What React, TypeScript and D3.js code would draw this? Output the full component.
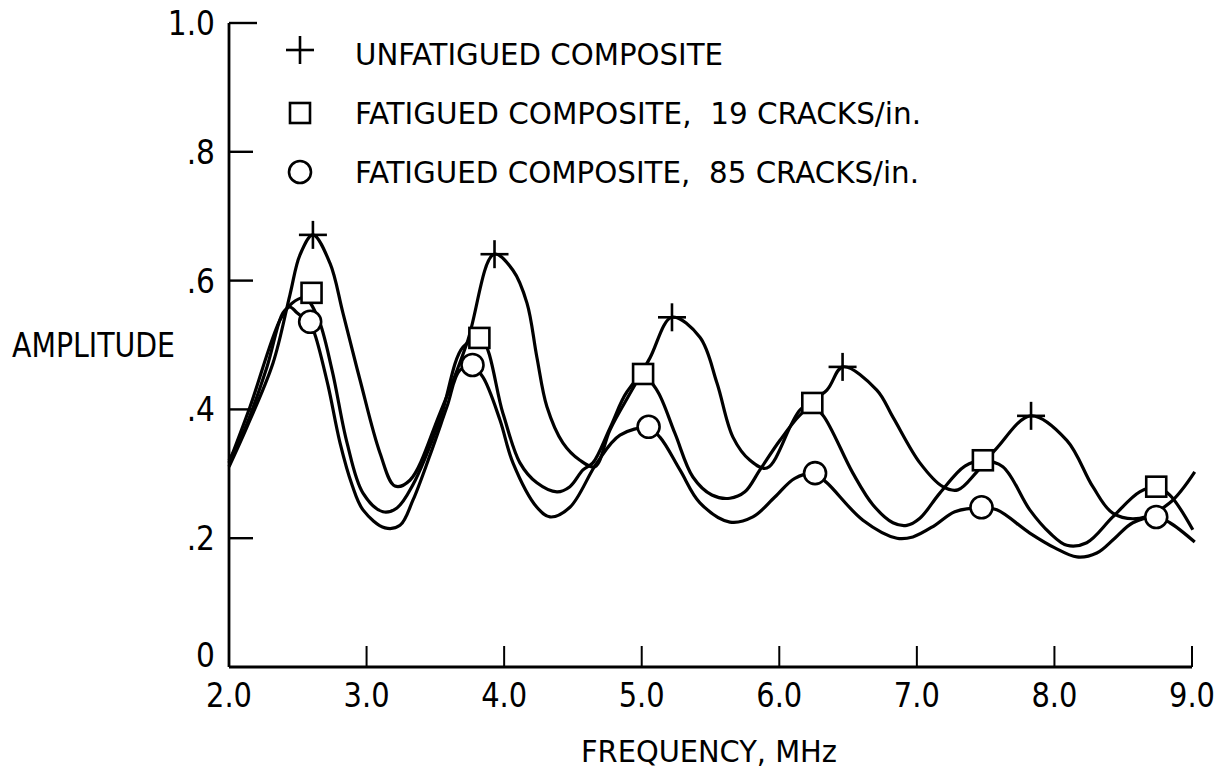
import React from "react";
import * as d3 from "d3";

// ---- data (frequency MHz, amplitude) ----
const unfatiguedCurve: [number, number][] = [
  [2.0, 0.311], [2.131, 0.373], [2.32, 0.472], [2.443, 0.578], [2.516, 0.64], [2.61, 0.671],
  [2.734, 0.627], [2.828, 0.55], [2.952, 0.446], [3.098, 0.332], [3.206, 0.281], [3.315, 0.29],
  [3.533, 0.394], [3.73, 0.503], [3.926, 0.641], [4.064, 0.616], [4.166, 0.565], [4.238, 0.481],
  [4.311, 0.404], [4.427, 0.348], [4.551, 0.321], [4.66, 0.311], [4.769, 0.368], [4.929, 0.43],
  [5.06, 0.48], [5.219, 0.543], [5.423, 0.512], [5.547, 0.441], [5.663, 0.357], [5.787, 0.321],
  [5.91, 0.309], [6.15, 0.399], [6.346, 0.43], [6.462, 0.466], [6.709, 0.43], [6.826, 0.388],
  [7.022, 0.317], [7.189, 0.28], [7.298, 0.275], [7.436, 0.303], [7.581, 0.34], [7.828, 0.39],
  [8.09, 0.352], [8.279, 0.28], [8.424, 0.239], [8.62, 0.231], [8.839, 0.255], [9.02, 0.303],
];
const cracks19Curve: [number, number][] = [
  [2.0, 0.317], [2.153, 0.404], [2.371, 0.539], [2.458, 0.565], [2.552, 0.573], [2.647, 0.542],
  [2.749, 0.461], [2.858, 0.348], [2.974, 0.27], [3.119, 0.241], [3.221, 0.247], [3.337, 0.283],
  [3.533, 0.384], [3.701, 0.497], [3.83, 0.51], [3.991, 0.394], [4.115, 0.317], [4.238, 0.286],
  [4.384, 0.272], [4.478, 0.28], [4.573, 0.306], [4.645, 0.317], [4.769, 0.371], [4.892, 0.427],
  [5.009, 0.452], [5.11, 0.43], [5.241, 0.363], [5.372, 0.295], [5.51, 0.267], [5.641, 0.262],
  [5.75, 0.272], [5.859, 0.306], [6.005, 0.352], [6.15, 0.391], [6.237, 0.405], [6.317, 0.391],
  [6.535, 0.301], [6.68, 0.252], [6.826, 0.224], [6.927, 0.22], [7.022, 0.231], [7.167, 0.27],
  [7.349, 0.312], [7.48, 0.32], [7.625, 0.311], [7.821, 0.244], [7.967, 0.208], [8.09, 0.189],
  [8.235, 0.193], [8.424, 0.233], [8.62, 0.272], [8.744, 0.279], [8.839, 0.267], [9.006, 0.213],
];
const cracks85Curve: [number, number][] = [
  [2.0, 0.321], [2.102, 0.363], [2.276, 0.466], [2.392, 0.55], [2.443, 0.559], [2.494, 0.55],
  [2.589, 0.533], [2.625, 0.516], [2.719, 0.438], [2.807, 0.348], [2.894, 0.283], [2.974, 0.244],
  [3.134, 0.216], [3.243, 0.22], [3.337, 0.259], [3.461, 0.329], [3.584, 0.404], [3.679, 0.461],
  [3.773, 0.466], [3.846, 0.45], [3.969, 0.384], [4.064, 0.317], [4.238, 0.248], [4.333, 0.233],
  [4.478, 0.248], [4.674, 0.317], [4.842, 0.36], [5.045, 0.371], [5.132, 0.357], [5.278, 0.306],
  [5.423, 0.255], [5.641, 0.225], [5.808, 0.233], [5.968, 0.264], [6.113, 0.293], [6.259, 0.3],
  [6.346, 0.286], [6.608, 0.228], [6.855, 0.2], [6.971, 0.202], [7.131, 0.22], [7.276, 0.241],
  [7.472, 0.247], [7.581, 0.244], [7.821, 0.208], [8.003, 0.185], [8.163, 0.171], [8.308, 0.177],
  [8.439, 0.2], [8.57, 0.224], [8.744, 0.232], [8.839, 0.224], [9.02, 0.194],
];

const unfatiguedMarks: [number, number][] = [
  [2.61, 0.671], [3.93, 0.641], [5.22, 0.543], [6.46, 0.466], [7.83, 0.39],
];
const cracks19Marks: [number, number][] = [
  [2.6, 0.581], [3.82, 0.511], [5.01, 0.455], [6.24, 0.41], [7.48, 0.321], [8.74, 0.28],
];
const cracks85Marks: [number, number][] = [
  [2.59, 0.536], [3.77, 0.469], [5.05, 0.373], [6.26, 0.301], [7.47, 0.248], [8.74, 0.233],
];

const xTicks = [2, 3, 4, 5, 6, 7, 8, 9];
const xTickLabels = ["2.0", "3.0", "4.0", "5.0", "6.0", "7.0", "8.0", "9.0"];
const yTicks = [0, 0.2, 0.4, 0.6, 0.8, 1.0];
const yTickLabels = ["0", ".2", ".4", ".6", ".8", "1.0"];
const legendLabels = [
  "UNFATIGUED COMPOSITE",
  "FATIGUED COMPOSITE,  19 CRACKS/in.",
  "FATIGUED COMPOSITE,  85 CRACKS/in.",
];
const xTitle = "FREQUENCY,  MHz";
const yTitle = "AMPLITUDE";

const FONT = "'Liberation Sans Narrow', 'DejaVu Sans Condensed', 'DejaVu Sans', sans-serif";
const SW = 3.2;

export default function App() {
  const x = d3.scaleLinear().domain([2, 9]).range([229, 1192]);
  const y = d3.scaleLinear().domain([0, 1]).range([667, 23]);
  const line = d3
    .line<[number, number]>()
    .x((d) => x(d[0]))
    .y((d) => y(d[1]))
    .curve(d3.curveCatmullRom.alpha(0.5));

  const plus = (cx: number, cy: number, key: string, s = 14) => (
    <g key={key} stroke="#000" strokeWidth={2.6}>
      <line x1={cx - s} x2={cx + s} y1={cy} y2={cy} />
      <line x1={cx} x2={cx} y1={cy - s} y2={cy + s} />
    </g>
  );
  const square = (cx: number, cy: number, key: string, s = 10) => (
    <rect key={key} x={cx - s} y={cy - s} width={2 * s} height={2 * s} fill="#fff" stroke="#000" strokeWidth={2.6} />
  );
  const circle = (cx: number, cy: number, key: string, r = 11) => (
    <circle key={key} cx={cx} cy={cy} r={r} fill="#fff" stroke="#000" strokeWidth={2.6} />
  );

  const legendY = [53, 112, 171];
  const legendWidths = [368, 566, 564];

  return (
    <svg
      width={1228}
      height={768}
      style={{ position: "absolute", left: 0, top: 0, background: "#fff", fontStretch: "condensed" }}
      fontFamily={FONT}
    >
      <rect x={0} y={0} width={1228} height={768} fill="#fff" />
      {/* axes */}
      <line x1={x(2)} x2={x(2)} y1={y(1)} y2={y(0)} stroke="#000" strokeWidth={2.8} />
      <line x1={x(2)} x2={x(9)} y1={y(0)} y2={y(0)} stroke="#000" strokeWidth={2.8} />
      {yTicks.map((t, i) =>
        t > 0 ? (
          <line key={"yt" + i} x1={x(2)} x2={x(2) + (t === 1 ? 28 : 24)} y1={y(t)} y2={y(t)} stroke="#000" strokeWidth={2.4} />
        ) : null
      )}
      {xTicks.map((t, i) =>
        t > 2 ? (
          <line key={"xt" + i} x1={x(t)} x2={x(t)} y1={y(0)} y2={y(0) - 21} stroke="#000" strokeWidth={2} />
        ) : null
      )}
      {yTicks.map((t, i) => (
        <text
          key={"yl" + i}
          x={215}
          y={y(t) + (t === 0 ? 0 : 12)}
          textAnchor="end"
          fontSize={33}
        >
          {yTickLabels[i]}
        </text>
      ))}
      {xTicks.map((t, i) => (
        <text
          key={"xl" + i}
          x={x(t) - 23}
          y={707}
          fontSize={34}
          textLength={46}
          lengthAdjust="spacingAndGlyphs"
        >
          {xTickLabels[i]}
        </text>
      ))}
      <text x={12} y={357} fontSize={34} textLength={163} lengthAdjust="spacingAndGlyphs">
        {yTitle}
      </text>
      <text x={581} y={762} fontSize={30} textLength={256} lengthAdjust="spacingAndGlyphs">
        {xTitle}
      </text>

      {/* curves */}
      {[unfatiguedCurve, cracks19Curve, cracks85Curve].map((c, i) => (
        <path key={"c" + i} d={line(c) || ""} fill="none" stroke="#000" strokeWidth={SW} strokeLinejoin="round" />
      ))}

      {/* markers */}
      {unfatiguedMarks.map((d, i) => plus(x(d[0]), y(d[1]), "p" + i))}
      {cracks19Marks.map((d, i) => square(x(d[0]), y(d[1]), "s" + i))}
      {cracks85Marks.map((d, i) => circle(x(d[0]), y(d[1]), "o" + i))}

      {/* legend */}
      {plus(300, 50, "lp")}
      {square(300, 113, "ls")}
      {circle(300, 172, "lo")}
      {legendLabels.map((l, i) => (
        <text
          key={"lg" + i}
          x={355}
          y={legendY[i] + 12}
          fontSize={31}
          textLength={legendWidths[i]}
          lengthAdjust="spacingAndGlyphs"
          style={{ whiteSpace: "pre" }}
        >
          {l}
        </text>
      ))}
    </svg>
  );
}
